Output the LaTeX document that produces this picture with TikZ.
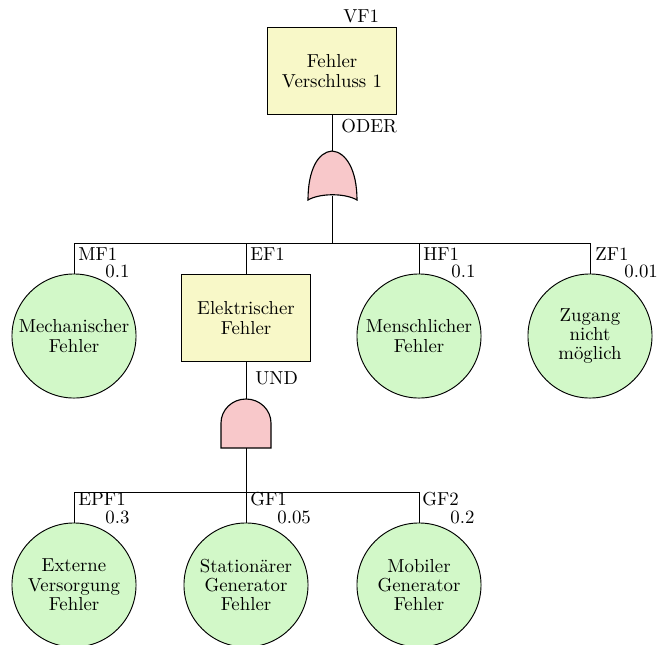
\documentclass[tikz,border=0pt]{standalone}
\usetikzlibrary{calc}
\definecolor{evfill}{RGB}{248,248,200}
\definecolor{basicfill}{RGB}{210,248,200}
\definecolor{gatefill}{RGB}{248,200,202}
\begin{document}
\begin{tikzpicture}[x=0.532pt,y=-0.532pt,
  every node/.style={font=\fontsize{10}{10.3}\selectfont},
  evbox/.style={draw, line width=0.5pt, fill=evfill, minimum width=68.6pt, minimum height=45.8pt, align=center, inner sep=1pt},
  basicev/.style={draw, line width=0.5pt, fill=basicfill, circle, minimum size=66pt, align=center, inner sep=0pt},
  gateshape/.style={draw, line width=0.6pt, fill=gatefill},
  conn/.style={draw, line width=0.5pt},
  lbl/.style={anchor=base west, inner sep=0pt}]
\useasboundingbox (0,0) rectangle (659,644);

% top event
\node[evbox] (vf1) at (332,71) {Fehler\\Verschluss 1};
\node[lbl] (vf1l) at (343,22) {VF1};

% OR gate
\coordinate (ort) at (332,151);
\coordinate (orb) at (332,196);
\draw[gateshape] (308,200) .. controls (308,170) and (318,152) .. (ort)
  .. controls (346,152) and (357,170) .. (357,200)
  .. controls (345,193) and (320,193) .. cycle;
\node[lbl] (oder) at (341,132) {ODER};
\draw[conn] (vf1.south) -- (ort);

% bus level 1
\coordinate (bus1) at (332,243);
\draw[conn] (orb) -- (bus1);

\node[basicev] (mf1) at (74,336) {Mechanischer\\Fehler};
\node[evbox] (ef1) at (246,318) {Elektrischer\\Fehler};
\node[basicev] (hf1) at (419,336) {Menschlicher\\Fehler};
\node[basicev] (zf1) at (590,336) {Zugang\\nicht\\m\"oglich};

\draw[conn] (mf1.north) -- (mf1.north |- bus1) -- (zf1.north |- bus1) -- (zf1.north);
\draw[conn] (ef1.north) -- (ef1.north |- bus1);
\draw[conn] (hf1.north) -- (hf1.north |- bus1);

\node[lbl] (mf1l) at (78,260) {MF1};
\node[lbl] (mf1p) at (105,277) {0.1};
\node[lbl] (ef1l) at (250,260) {EF1};
\node[lbl] (hf1l) at (423,260) {HF1};
\node[lbl] (hf1p) at (451,277) {0.1};
\node[lbl] (zf1l) at (595,260) {ZF1};
\node[lbl] (zf1p) at (624,277) {0.01};

% AND gate
\coordinate (andt) at (246,399);
\coordinate (andb) at (246,448);
\draw[gateshape] (221,448) -- (221,423) .. controls (221,410) and (232,399) .. (andt)
  .. controls (260,399) and (271,410) .. (271,423) -- (271,448) -- cycle;
\node[lbl] (und) at (255,384) {UND};
\draw[conn] (ef1.south) -- (andt);

\coordinate (bus2) at (246,492);
\draw[conn] (andb) -- (bus2);

\node[basicev] (epf1) at (74,585) {Externe\\Versorgung\\Fehler};
\node[basicev] (gf1) at (246,585) {Station\"arer\\Generator\\Fehler};
\node[basicev] (gf2) at (419,585) {Mobiler\\Generator\\Fehler};

\draw[conn] (epf1.north) -- (epf1.north |- bus2) -- (gf2.north |- bus2) -- (gf2.north);
\draw[conn] (gf1.north) -- (gf1.north |- bus2);

\node[lbl] (epf1l) at (78,505) {EPF1};
\node[lbl] (epf1p) at (105,523) {0.3};
\node[lbl] (gf1l) at (250,505) {GF1};
\node[lbl] (gf1p) at (277,523) {0.05};
\node[lbl] (gf2l) at (422,505) {GF2};
\node[lbl] (gf2p) at (450,523) {0.2};
\end{tikzpicture}
\end{document}
